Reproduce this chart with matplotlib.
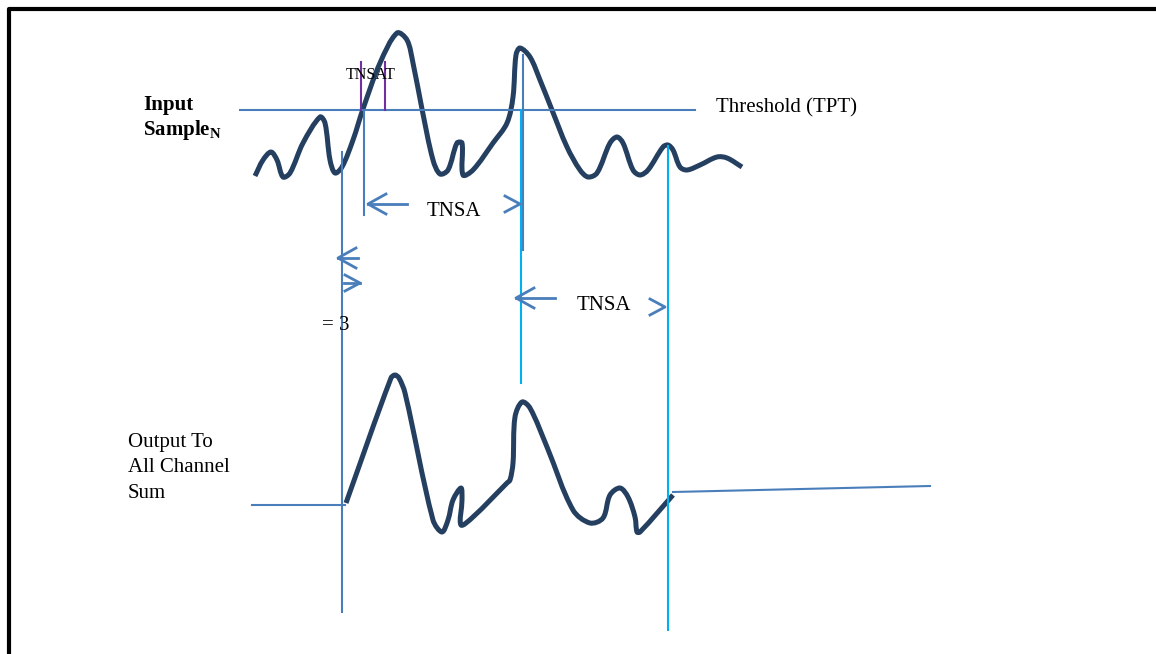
import matplotlib.pyplot as plt
from matplotlib.path import Path
from matplotlib.patches import PathPatch
import numpy as np

# waveform points (pixel coords, y down)
top_x = [255, 263, 271, 277, 283, 290, 303, 320, 325, 330, 335, 342, 353, 363, 380, 397, 407, 413, 422, 433,
         440, 448, 457, 462, 463, 473, 493, 507, 513, 516, 520, 530, 540, 552, 567, 580, 588, 597, 610, 617,
         623, 633, 640, 648, 663, 668, 673, 680, 687, 700, 717, 727, 742]
top_y = [176, 160, 152, 160, 177, 173, 143, 117, 123, 160, 173, 167, 140, 109, 63, 33, 40, 63, 109, 160,
         174, 170, 143, 143, 175, 170, 143, 123, 97, 55, 48, 57, 80, 110, 147, 170, 177, 173, 143, 137,
         143, 170, 175, 170, 147, 145, 150, 167, 170, 165, 157, 158, 167]

out_x = [346, 391, 395, 399, 405, 433, 442, 448, 453, 461, 462, 461, 473, 507, 510, 513, 515, 522, 530,
         547, 573, 590, 603, 610, 620, 628, 635, 637, 640, 673]
out_y = [503, 378, 375, 378, 393, 520, 532, 520, 500, 488, 500, 525, 517, 483, 480, 463, 417, 402, 408,
         447, 510, 523, 518, 495, 488, 497, 517, 532, 532, 495]

threshold_y = 110
labels_out = ["Output To", "All Channel", "Sum"]

navy = "#243f60"
blue = "#4a7ebb"
cyan = "#00b0f0"
purple = "#7030a0"


def smooth_path(xs, ys):
    # chord-length catmull-rom through the points, drawn as bezier segments
    p = np.column_stack([xs, ys]).astype(float)
    d = np.hypot(*np.diff(p, axis=0).T)
    n = len(p)
    m = np.zeros_like(p)
    m[0] = (p[1] - p[0]) / d[0]
    m[-1] = (p[-1] - p[-2]) / d[-1]
    for i in range(1, n - 1):
        m[i] = (p[i + 1] - p[i - 1]) / (d[i - 1] + d[i])
    verts = [p[0]]
    codes = [Path.MOVETO]
    for i in range(n - 1):
        verts += [p[i] + m[i] * d[i] / 3, p[i + 1] - m[i + 1] * d[i] / 3, p[i + 1]]
        codes += [Path.CURVE4] * 3
    return Path(verts, codes)


plt.rcParams['font.family'] = ['Liberation Serif', 'DejaVu Serif']
plt.rcParams['mathtext.fontset'] = 'custom'
plt.rcParams['mathtext.rm'] = 'Liberation Serif'
plt.rcParams['mathtext.bf'] = 'Liberation Serif:bold'

fig = plt.figure(figsize=(11.56, 6.54), dpi=100)
ax = fig.add_axes([0, 0, 1, 1])
ax.set_xlim(0, 1156)
ax.set_ylim(654, 0)
ax.axis("off")

# frame
ax.plot([9, 9, 1160], [660, 9, 9], color="black", lw=3, solid_capstyle="projecting")

# threshold
ax.plot([240, 695], [threshold_y, threshold_y], color=blue, lw=1.5)

# vertical markers
ax.plot([342, 342], [152, 612], color=blue, lw=1.5)
ax.plot([364, 364], [110, 215], color=blue, lw=1.5)
ax.plot([523, 523], [55, 250], color=blue, lw=1.5)
ax.plot([521, 521], [110, 383], color=cyan, lw=1.5)
ax.plot([668, 668], [146, 630], color=cyan, lw=1.5)
ax.plot([361, 361], [62, 110], color=purple, lw=1.5)
ax.plot([385, 385], [62, 110], color=purple, lw=1.5)

# output baselines
ax.plot([252, 345], [505, 505], color=blue, lw=1.5)
ax.plot([673, 930], [492, 486], color=blue, lw=1.5)

# waveforms
for xs, ys in [(top_x, top_y), (out_x, out_y)]:
    ax.add_patch(PathPatch(smooth_path(xs, ys), fill=False, ec=navy, lw=3.6,
                           capstyle="butt", joinstyle="round"))


def left_arrow(x, y, shaft):
    ax.plot([x, x + shaft], [y, y], color=blue, lw=2)
    ax.plot([x + 18, x, x + 18], [y - 10, y, y + 10], color=blue, lw=2)


def right_arrow(x, y, shaft=0):
    if shaft:
        ax.plot([x - shaft, x], [y, y], color=blue, lw=2)
    ax.plot([x - 15, x, x - 15], [y - 8, y, y + 8], color=blue, lw=2)


left_arrow(368, 204, 39)
right_arrow(520, 204)
left_arrow(338, 258, 20)
right_arrow(360, 283, 16)
left_arrow(516, 298, 39)
right_arrow(665, 307)

# text
fs = 15
ax.text(143, 105, "Input", fontsize=fs, fontweight="bold", va="center")
ax.text(143, 130, r"Sample$_{\mathbf{N}}$", fontsize=fs, fontweight="bold", va="center")
ax.text(346, 75, "TNSAT", fontsize=11.5, va="center")
ax.text(454, 212, "TNSA", fontsize=fs, ha="center", va="center")
ax.text(604, 305, "TNSA", fontsize=fs, ha="center", va="center")
ax.text(322, 326, "= 3", fontsize=fs, va="center")
ax.text(716, 108, "Threshold (TPT)", fontsize=fs, va="center")
for i, s in enumerate(labels_out):
    ax.text(128, 443 + 25 * i, s, fontsize=fs, va="center")

fig.savefig("out.png", dpi=100)
